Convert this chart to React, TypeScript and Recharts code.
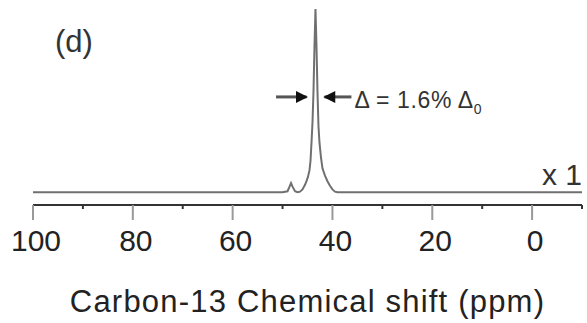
import React from 'react';
import {
  LineChart,
  Line,
  XAxis,
  YAxis,
  ReferenceLine,
  ReferenceDot,
  Label,
} from 'recharts';

// chemical shift (ppm) and intensity
const ppm = [
  100, 60, 50, 49, 48.6, 48.3, 48, 47.5, 47, 46.5, 46, 45.5, 45.2, 44.9, 44.6,
  44.4, 44.2, 44, 43.8, 43.6, 43.4, 43.2, 43, 42.8, 42.6, 42.3, 42, 41.5, 41,
  40.5, 40, 39.5, 39, 20, -10,
];
const intensity = [
  0, 0, 0, 0.5, 3, 5, 3, 0.5, 0, 0.3, 1.5, 4, 6, 8.5, 12, 17, 27, 38, 55, 80,
  100, 80, 55, 36, 27, 19, 13, 9, 6, 3.5, 1.5, 0.3, 0, 0, 0,
];

const majorTicks = [100, 80, 60, 40, 20, 0];
const allTicks = [100, 90, 80, 70, 60, 50, 40, 30, 20, 10, 0, -10];

const data = ppm.map((p, i) => ({ ppm: p, intensity: intensity[i] }));

const FONT = '"Liberation Sans", Arial, sans-serif';

function AxisTick(props: any) {
  const { x, y, payload } = props;
  const major = majorTicks.includes(payload.value);
  return (
    <g>
      <line
        x1={x}
        x2={x}
        y1={y}
        y2={y + (major ? 15 : 4)}
        stroke={major ? '#999' : '#333'}
        strokeWidth={2}
      />
      {major && (
        <text
          x={x + 3}
          y={y + 46}
          textAnchor="middle"
          fontSize={30}
          fill="#222"
          fontFamily={FONT}
        >
          {payload.value}
        </text>
      )}
    </g>
  );
}

const arrowHead = (dir: number) => (props: any) => {
  const { cx, cy } = props;
  return (
    <path
      d={`M${cx},${cy} L${cx - dir * 12},${cy - 6} L${cx - dir * 12},${cy + 6} Z`}
      fill="#111"
    />
  );
};

const textShape = (
  value: React.ReactNode,
  size: number,
  anchor: string,
  spacing = 0
) => (props: any) => (
  <text
    x={props.cx}
    y={props.cy}
    fontSize={size}
    fill="#333"
    fontFamily={FONT}
    textAnchor={anchor as any}
    letterSpacing={spacing}
  >
    {value}
  </text>
);

export default function App() {
  return (
    <div style={{ position: 'absolute', left: 0, top: 0, background: '#fff' }}>
      <LineChart
        width={587}
        height={323}
        data={data}
        margin={{ top: 9, right: 5, bottom: 0, left: 33 }}
      >
        <XAxis
          dataKey="ppm"
          type="number"
          domain={[-10, 100]}
          reversed
          ticks={allTicks}
          interval={0}
          tickSize={0}
          tickMargin={0}
          tickLine={false}
          tick={<AxisTick />}
          axisLine={{ stroke: '#333', strokeWidth: 2 }}
          height={118}
        >
          <Label
            value="Carbon-13 Chemical shift (ppm)"
            position="insideBottom"
            offset={11}
            fontSize={31}
            letterSpacing={1.2}
            fill="#222"
            fontFamily={FONT}
          />
        </XAxis>
        <YAxis hide domain={[-7, 100]} />
        <Line
          type="linear"
          dataKey="intensity"
          stroke="#707070"
          strokeWidth={2}
          dot={false}
          isAnimationActive={false}
        />
        <ReferenceLine
          segment={[{ x: 51.3, y: 52 }, { x: 45.2, y: 52 }]}
          stroke="#555"
          strokeWidth={3}
        />
        <ReferenceLine
          segment={[{ x: 41.6, y: 52 }, { x: 36.2, y: 52 }]}
          stroke="#555"
          strokeWidth={3}
        />
        <ReferenceDot x={44.9} y={52} shape={arrowHead(1)} />
        <ReferenceDot x={41.85} y={52} shape={arrowHead(-1)} />
        <ReferenceDot
          x={35.6}
          y={46}
          shape={textShape(
            <>
              Δ = 1.6% Δ<tspan fontSize={14} dy={6}>0</tspan>
            </>,
            23,
            'start',
            0.6
          )}
        />
        <ReferenceDot x={95.6} y={76.5} shape={textShape('(d)', 31, 'start')} />
        <ReferenceDot x={-10} y={3.8} shape={textShape('x 1', 30, 'end')} />
      </LineChart>
    </div>
  );
}
